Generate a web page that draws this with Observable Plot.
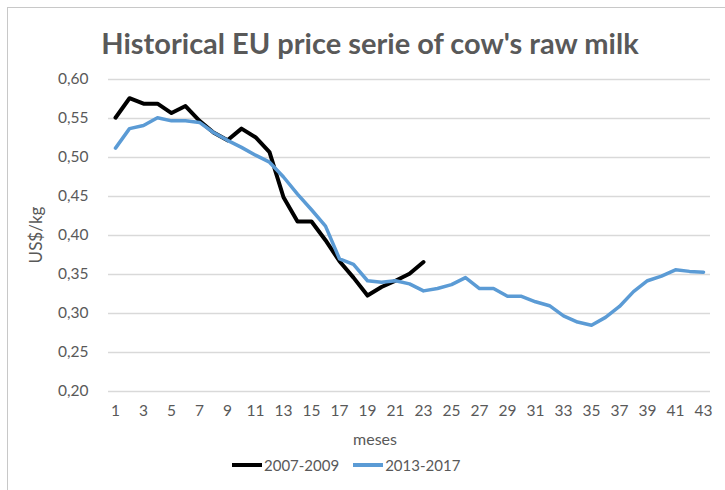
<!DOCTYPE html>
<html>
<head>
<meta charset="utf-8">
<script src="https://cdn.jsdelivr.net/npm/d3@7"></script>
<script src="https://cdn.jsdelivr.net/npm/@observablehq/plot@0.6"></script>
<style>
  html, body { margin: 0; padding: 0; background: #fff; overflow: hidden; }
  #wrap { position: relative; width: 725px; height: 490px; font-family: Lato, "Open Sans", sans-serif; color: #595959; }
  #frame { position: absolute; left: 7px; top: 7px; width: 740px; height: 500px; border: 1px solid #c8c8c8; box-sizing: border-box; }
  #chart { position: absolute; left: 0; top: 0; }
  #title { position: absolute; left: 0; width: 740px; top: 25px; text-align: center; font-size: 29px; font-weight: bold; color: #595959; white-space: nowrap; }
  #ylabel { position: absolute; left: 35px; top: 235px; transform: translate(-50%, -50%) rotate(-90deg); font-size: 17px; color: #595959; white-space: nowrap; }
  #xlabel { position: absolute; left: 0; width: 750px; top: 429px; text-align: center; font-size: 16px; color: #595959; }
  #legend { position: absolute; left: 232px; top: 456px; font-size: 15px; color: #595959; display: flex; align-items: center; white-space: nowrap; }
  .sw { display: inline-block; width: 30px; height: 4px; margin-right: 2px; }
  .item { display: flex; align-items: center; margin-right: 14px; }
</style>
</head>
<body>
<div id="wrap">
  <div id="frame"></div>
  <div id="chart"></div>
  <div id="title">Historical EU price serie of cow's raw milk</div>
  <div id="ylabel">US$/kg</div>
  <div id="xlabel">meses</div>
  <div id="legend"></div>
</div>
<script>
// Categories (months)
const months = d3.range(1, 44);
const xTickLabels = [1,3,5,7,9,11,13,15,17,19,21,23,25,27,29,31,33,35,37,39,41,43];
const yTicks = [0.20,0.25,0.30,0.35,0.40,0.45,0.50,0.55,0.60];

// Series names
const seriesNames = ["2007-2009", "2013-2017"];
const seriesColors = ["#000000", "#5b9bd5"];

// 2007-2009 (months 1..23)
const months0709 = [1,2,3,4,5,6,7,8,9,10,11,12,13,14,15,16,17,18,19,20,21,22,23];
const values0709 = [0.551,0.576,0.569,0.569,0.557,0.566,0.547,0.532,0.522,0.537,0.526,0.507,
                    0.449,0.418,0.418,0.394,0.367,0.346,0.323,0.334,0.342,0.351,0.366];

// 2013-2017 (months 1..43)
const months1317 = months;
const values1317 = [0.512,0.537,0.541,0.551,0.547,0.547,0.545,0.532,0.522,0.513,0.503,0.494,
                    0.475,0.453,0.433,0.412,0.370,0.363,0.342,0.340,0.342,0.338,0.329,0.332,
                    0.337,0.346,0.332,0.332,0.322,0.322,0.315,0.310,0.297,0.289,0.285,0.295,
                    0.309,0.328,0.342,0.348,0.356,0.354,0.353];

const d0709 = months0709.map((m, i) => ({month: m, value: values0709[i]}));
const d1317 = months1317.map((m, i) => ({month: m, value: values1317[i]}));

const fmt = d => d.toFixed(2).replace(".", ",");

const chart = Plot.plot({
  width: 725,
  height: 425,
  marginLeft: 108,
  marginRight: 15,
  marginTop: 79,
  marginBottom: 34,
  style: {fontFamily: "Lato, 'Open Sans', sans-serif", fontSize: "15px", color: "#595959", background: "transparent"},
  x: {type: "point", domain: months, padding: 0.5},
  y: {domain: [0.2, 0.6]},
  marks: [
    Plot.gridY(yTicks, {stroke: "#d9d9d9", strokeOpacity: 1, strokeWidth: 1.5}),
    Plot.axisY(yTicks, {tickSize: 0, tickPadding: 20, tickFormat: fmt, fontSize: 15.5, label: null}),
    Plot.axisX(xTickLabels, {tickSize: 0, tickPadding: 13, fontSize: 15.5, label: null}),
    Plot.line(d0709, {x: "month", y: "value", stroke: seriesColors[0], strokeWidth: 4, strokeLinejoin: "round", strokeLinecap: "round"}),
    Plot.line(d1317, {x: "month", y: "value", stroke: seriesColors[1], strokeWidth: 3.5, strokeLinejoin: "round", strokeLinecap: "round"})
  ]
});
document.getElementById("chart").appendChild(chart);

const legend = document.getElementById("legend");
seriesNames.forEach((name, i) => {
  const item = document.createElement("span");
  item.className = "item";
  const sw = document.createElement("span");
  sw.className = "sw";
  sw.style.background = seriesColors[i];
  item.appendChild(sw);
  item.appendChild(document.createTextNode(name));
  legend.appendChild(item);
});
</script>
</body>
</html>
